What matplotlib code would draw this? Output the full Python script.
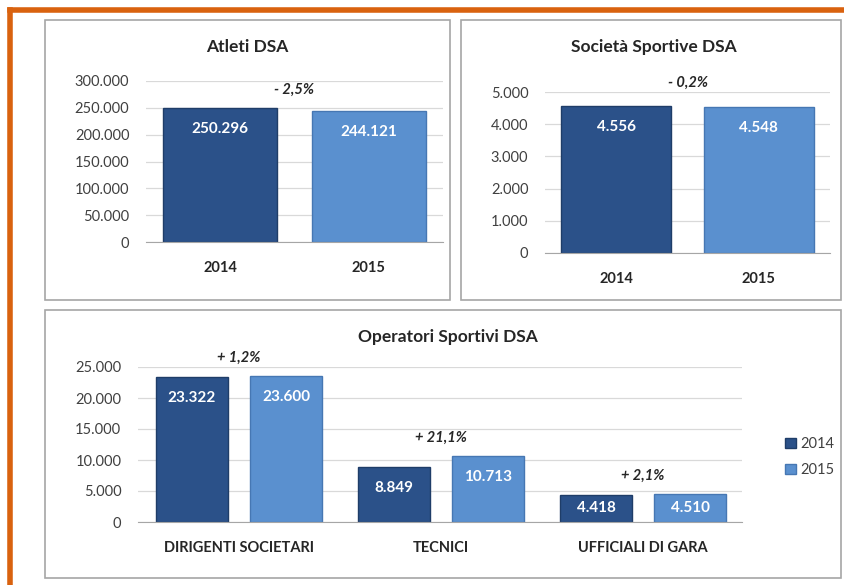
import matplotlib
matplotlib.use("Agg")
import matplotlib.pyplot as plt
from matplotlib.patches import Rectangle
from matplotlib.lines import Line2D
from matplotlib.ticker import FuncFormatter

plt.rcParams["font.family"] = ["Lato", "DejaVu Sans"]

# data
years = ["2014", "2015"]
atleti = [250296, 244121]
atleti_pct = "- 2,5%"
societa = [4556, 4548]
societa_pct = "- 0,2%"
operatori_cat = ["DIRIGENTI SOCIETARI", "TECNICI", "UFFICIALI DI GARA"]
operatori_2014 = [23322, 8849, 4418]
operatori_2015 = [23600, 10713, 4510]
operatori_pct = ["+ 1,2%", "+ 21,1%", "+ 2,1%"]

DARK = "#2b5189"
LIGHT = "#5a90cf"
TXT = "#404040"
W, H = 844, 585

fig = plt.figure(figsize=(W / 100, H / 100), dpi=100)


def fbox(x0, y0, x1, y1):
    # pixel box (top-left origin) -> figure fraction rect
    return [x0 / W, 1 - y1 / H, (x1 - x0) / W, (y1 - y0) / H]


def thousands(v, pos=None):
    return f"{v:,.0f}".replace(",", ".")


def fmt(v):
    return f"{v:,}".replace(",", ".")


# orange frame (top and left only, the picture is cropped)
fig.add_artist(Line2D([10 / W, 1], [1 - 10 / H, 1 - 10 / H], color="#d9620f", lw=4))
fig.add_artist(Line2D([10 / W, 10 / W], [0, 1 - 10 / H], color="#d9620f", lw=4))

# panel frames
for x0, y0, x1, y1 in [(45, 20, 450, 300), (461, 20, 841, 300), (45, 310, 841, 578)]:
    r = fbox(x0, y0, x1, y1)
    fig.add_artist(Rectangle((r[0], r[1]), r[2], r[3], transform=fig.transFigure,
                             fill=False, ec="#a6a6a6", lw=1.2))


def style(ax, ymax, step):
    ax.set_ylim(0, ymax)
    ax.set_yticks(range(0, ymax + 1, step))
    ax.yaxis.set_major_formatter(FuncFormatter(thousands))
    ax.grid(axis="y", color="#d9d9d9", lw=0.9)
    ax.set_axisbelow(True)
    for s in ["top", "right", "left"]:
        ax.spines[s].set_visible(False)
    ax.spines["bottom"].set_color("#a6a6a6")
    ax.tick_params(axis="y", length=0, labelsize=10.5, labelcolor=TXT, pad=12)
    ax.tick_params(axis="x", length=0, labelsize=10.5, labelcolor="#262626", pad=14)


def label_bars(ax, bars, ymax, hpx):
    off = 21 * ymax / hpx
    for b in bars:
        v = b.get_height()
        y = max(v - off, v / 2)
        ax.text(b.get_x() + b.get_width() / 2, y, fmt(int(v)), ha="center", va="center",
                color="white", fontsize=11, fontweight="bold")


def pct(ax, x, top, text, dy):
    ax.annotate(text, (x, top), xytext=(0, dy), textcoords="offset points",
                ha="center", va="center", fontsize=10.5, fontweight="bold",
                fontstyle="italic", color="#262626", annotation_clip=False)


def bold_xticks(ax):
    for t in ax.get_xticklabels():
        t.set_fontweight("bold")


# Atleti DSA
ax1 = fig.add_axes(fbox(146, 81, 443, 242))
b = ax1.bar([0, 1], atleti, width=0.77, color=[DARK, LIGHT], edgecolor=["#1f3d68", "#4677b3"], lw=1)
style(ax1, 300000, 50000)
ax1.set_xlim(-0.5, 1.5)
ax1.set_xticks([0, 1], years)
bold_xticks(ax1)
label_bars(ax1, b, 300000, 161)
pct(ax1, 0.5, max(atleti), atleti_pct, 13)
fig.text(247 / W, 1 - 47 / H, "Atleti DSA", ha="center", va="center", fontsize=12.5,
         fontweight="bold", color="#262626")

# Società Sportive DSA
ax2 = fig.add_axes(fbox(545, 92, 830, 253))
b = ax2.bar([0, 1], societa, width=0.77, color=[DARK, LIGHT], edgecolor=["#1f3d68", "#4677b3"], lw=1)
style(ax2, 5000, 1000)
ax2.set_xlim(-0.5, 1.5)
ax2.set_xticks([0, 1], years)
bold_xticks(ax2)
label_bars(ax2, b, 5000, 161)
pct(ax2, 0.5, max(societa), societa_pct, 17)
fig.text(654 / W, 1 - 47 / H, "Società Sportive DSA", ha="center", va="center", fontsize=12.5,
         fontweight="bold", color="#262626")

# Operatori Sportivi DSA
ax3 = fig.add_axes(fbox(138, 367, 742, 522))
xs = list(range(len(operatori_cat)))
w = 0.356
b1 = ax3.bar([x - 0.233 for x in xs], operatori_2014, width=w, color=DARK, edgecolor="#1f3d68", lw=1, label="2014")
b2 = ax3.bar([x + 0.233 for x in xs], operatori_2015, width=w, color=LIGHT, edgecolor="#4677b3", lw=1, label="2015")
style(ax3, 25000, 5000)
ax3.set_xlim(-0.5, 2.49)
ax3.set_xticks(xs, operatori_cat)
bold_xticks(ax3)
label_bars(ax3, b1, 25000, 155)
label_bars(ax3, b2, 25000, 155)
for x, a, c, t in zip(xs, operatori_2014, operatori_2015, operatori_pct):
    pct(ax3, x, max(a, c), t, 13)
ax3.legend(loc="center left", bbox_to_anchor=(1.05, 0.42), frameon=False, fontsize=10.5,
           handlelength=0.7, handleheight=0.7, handletextpad=0.3, labelspacing=0.8,
           labelcolor=TXT)
fig.text(448 / W, 1 - 337 / H, "Operatori Sportivi DSA", ha="center", va="center", fontsize=12.5,
         fontweight="bold", color="#262626")

fig.savefig("out.png", dpi=100, facecolor="white")
